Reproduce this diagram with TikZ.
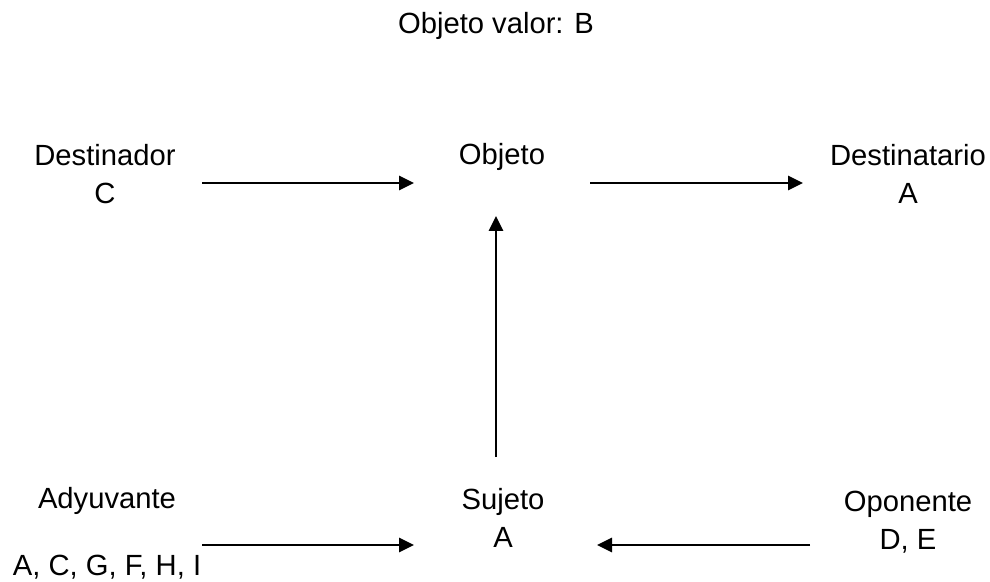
\documentclass[tikz,border=0pt]{standalone}
\usepackage{fontspec}
\setmainfont{Liberation Sans}
\usetikzlibrary{arrows.meta}
\begin{document}
\begin{tikzpicture}[x=0.5pt,y=-0.5pt,
  lbl/.style={inner sep=0pt,anchor=north,align=center,font=\fontsize{14.6pt}{19pt}\selectfont},
  conn/.style={line width=1.4pt,-{Triangle[length=7.5pt,width=7pt]}}]
\useasboundingbox (0,0) rectangle (990,582);
\node[lbl] (title) at (496,6.4) {\strut Objeto valor: B};
\node[lbl] (dest) at (105,138.4) {\strut Destinador\\\strut C};
\node[lbl] (obj) at (502,137.4) {\strut Objeto};
\node[lbl] (desta) at (908,138.4) {\strut Destinatario\\\strut A};
\node[lbl] (ady) at (107,481.4) {\strut Adyuvante};
\node[lbl] (adyl) at (107,548.4) {\strut A, C, G, F, H, I};
\node[lbl] (suj) at (503,482.4) {\strut Sujeto\\\strut A};
\node[lbl] (opo) at (908,484) {\strut Oponente\\\strut D, E};
\coordinate (a1s) at (202,183);
\coordinate (a1e) at (414,183);
\coordinate (a2s) at (590,183);
\coordinate (a2e) at (803,183);
\coordinate (a3s) at (496,457);
\coordinate (a3e) at (496,216);
\coordinate (a4s) at (202,545);
\coordinate (a4e) at (414,545);
\coordinate (a5s) at (810,545);
\coordinate (a5e) at (597,545);
\draw[conn] (a1s) -- (a1e);
\draw[conn] (a2s) -- (a2e);
\draw[conn] (a3s) -- (a3e);
\draw[conn] (a4s) -- (a4e);
\draw[conn] (a5s) -- (a5e);
\end{tikzpicture}
\end{document}
